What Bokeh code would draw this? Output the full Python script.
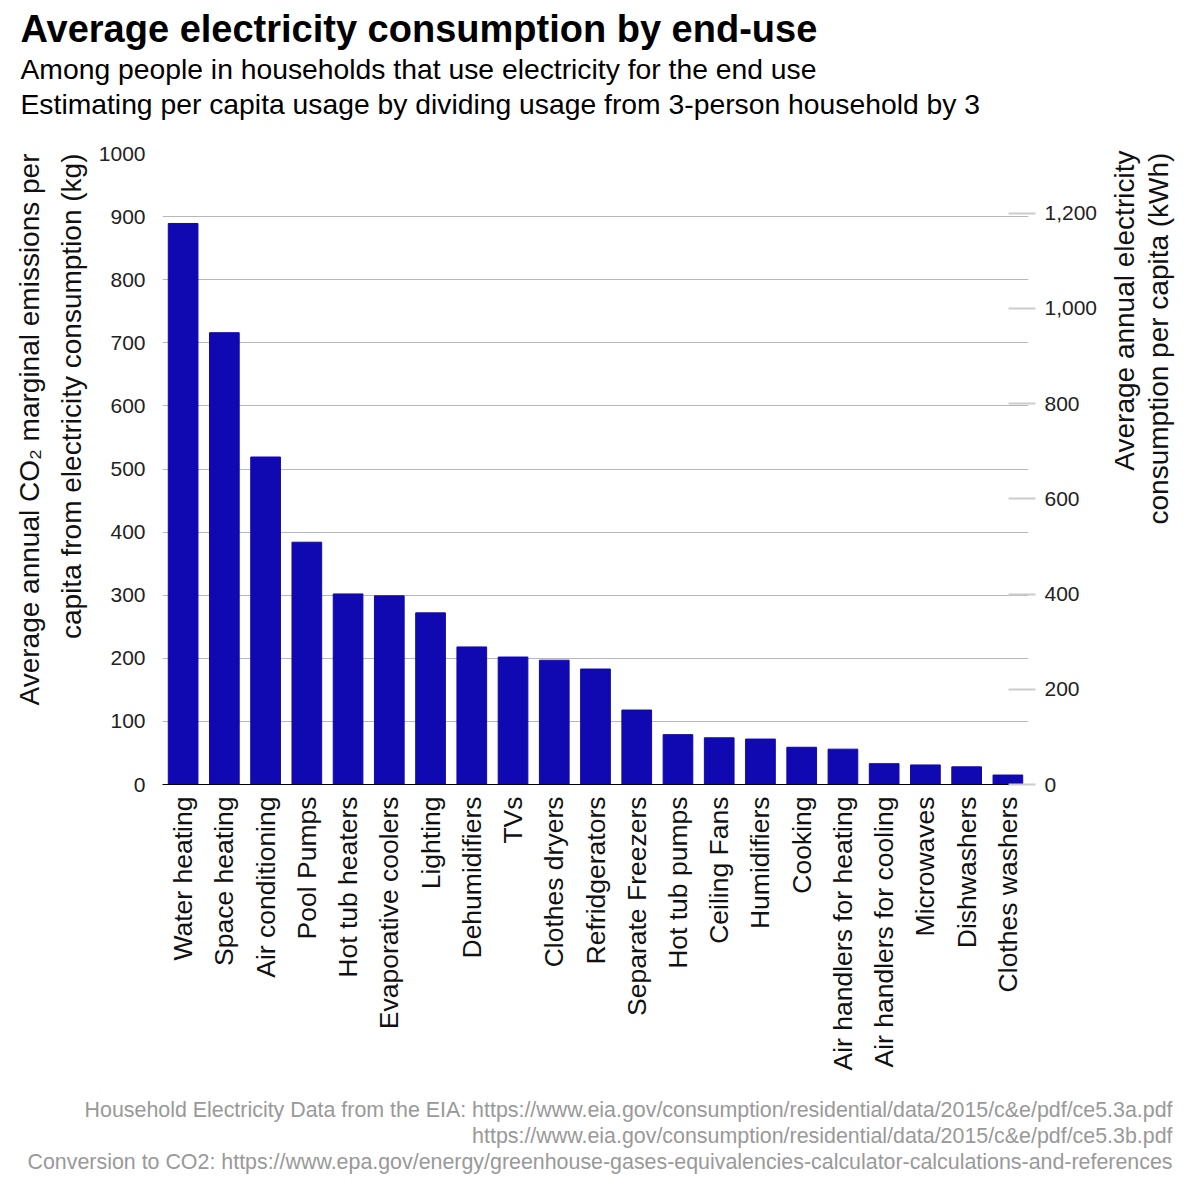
from math import pi
from bokeh.plotting import figure
from bokeh.models import (Range1d, LinearAxis, SingleIntervalTicker,
                          FixedTicker, NumeralTickFormatter, Title, ColumnDataSource)
from bokeh.embed import file_html
from bokeh.resources import INLINE

categories = ["Water heating", "Space heating", "Air conditioning", "Pool Pumps",
              "Hot tub heaters", "Evaporative coolers", "Lighting", "Dehumidifiers",
              "TVs", "Clothes dryers", "Refridgerators", "Separate Freezers",
              "Hot tub pumps", "Ceiling Fans", "Humidifiers", "Cooking",
              "Air handlers for heating", "Air handlers for cooling", "Microwaves",
              "Dishwashers", "Clothes washers"]
co2_kg = [889, 716, 519, 384, 302, 299, 272, 218, 202, 197, 183, 118,
          79, 74, 72, 59, 56, 33, 31, 28, 15]
kwh_axis_max = 1325

title_text = "Average electricity consumption by end-use"
subtitle_lines = ["Among people in households that use electricity for the end use",
                  "Estimating per capita usage by dividing usage from 3-person household by 3"]
left_title_lines = ["Average annual CO\u2082 marginal emissions per",
                    "capita from electricity consumption (kg)"]
right_title_lines = ["Average annual electricity", "consumption per capita (kWh)"]
# anchor (start) of each right-hand title line, in kWh of the right scale
right_title_anchor = [659, 546]
footnotes = ["Household Electricity Data from the EIA: https://www.eia.gov/consumption/residential/data/2015/c&e/pdf/ce5.3a.pdf",
             "https://www.eia.gov/consumption/residential/data/2015/c&e/pdf/ce5.3b.pdf",
             "Conversion to CO2: https://www.epa.gov/energy/greenhouse-gases-equivalencies-calculator-calculations-and-references"]

FONT = "Liberation Sans"
BAR = "#1008B0"
W = H = 1192

idx = list(range(len(categories)))
src = ColumnDataSource(data=dict(x=idx, cat=categories, val=co2_kg))

p = figure(width=W, height=H,
           x_range=Range1d(-0.5, len(categories) - 0.5),
           y_range=Range1d(0, 1000),
           output_backend="svg", toolbar_location=None,
           min_border_left=162, min_border_right=W - 1035,
           min_border_top=153, min_border_bottom=H - 784)
p.outline_line_color = None
p.background_fill_color = "white"
p.border_fill_color = "white"

p.vbar(x="x", top="val", width=0.72, source=src, color=BAR)

p.xgrid.grid_line_color = None
p.ygrid.grid_line_color = "#b7b7b7"
p.ygrid.grid_line_width = 1

# left axis
ya = p.yaxis[0]
ya.ticker = SingleIntervalTicker(interval=100)
ya.axis_line_color = None
ya.major_tick_line_color = None
ya.minor_tick_line_color = None
ya.major_tick_out = 0
ya.major_tick_in = 0
ya.major_label_standoff = 13
ya.major_label_text_font = FONT
ya.major_label_text_font_size = "21px"
ya.major_label_text_color = "#222222"

# bottom axis: category names on the bar positions
xa = p.xaxis[0]
xa.ticker = FixedTicker(ticks=idx)
xa.major_label_overrides = {i: c for i, c in zip(idx, categories)}
xa.axis_line_color = "black"
xa.axis_line_width = 1
xa.major_tick_line_color = None
xa.minor_tick_line_color = None
xa.major_tick_out = 0
xa.major_tick_in = 0
xa.major_label_orientation = pi / 2
xa.major_label_standoff = 12
xa.major_label_text_font = FONT
xa.major_label_text_font_size = "26.5px"
xa.major_label_text_color = "#111111"

# right axis (kWh)
p.extra_y_ranges = {"kwh": Range1d(0, kwh_axis_max)}
ra = LinearAxis(y_range_name="kwh", ticker=SingleIntervalTicker(interval=200),
                formatter=NumeralTickFormatter(format="0,0"))
ra.axis_line_color = None
ra.minor_tick_line_color = None
ra.major_tick_line_color = "#cccccc"
ra.major_tick_line_width = 2
ra.major_tick_in = 20
ra.major_tick_out = 7
ra.major_label_standoff = 9
ra.major_label_text_font = FONT
ra.major_label_text_font_size = "21px"
ra.major_label_text_color = "#222222"
p.add_layout(ra, "right")

# right axis title: each line is the single label of a tick-less axis
for line, anchor, so in zip(right_title_lines, right_title_anchor, [24, 0]):
    t_ax = LinearAxis(y_range_name="kwh", ticker=FixedTicker(ticks=[anchor]))
    t_ax.major_label_overrides = {anchor: line}
    t_ax.axis_line_color = None
    t_ax.major_tick_line_color = None
    t_ax.minor_tick_line_color = None
    t_ax.major_tick_out = 0
    t_ax.major_tick_in = 0
    t_ax.major_label_standoff = so
    t_ax.major_label_orientation = pi / 2
    t_ax.major_label_text_font = FONT
    t_ax.major_label_text_font_size = "28px"
    t_ax.major_label_text_color = "#111111"
    p.add_layout(t_ax, "right")

def spacer(place, size):
    s = LinearAxis(ticker=FixedTicker(ticks=[0]))
    s.major_label_overrides = {0: ""}
    s.axis_line_color = None
    s.major_tick_line_color = "white"
    s.minor_tick_line_color = None
    s.major_tick_out = size
    s.major_tick_in = 0
    s.major_label_standoff = 0
    s.major_label_text_font_size = "1px"
    p.add_layout(s, place)

def side_title(text, place, size, standoff, offset=0, align="left", bold=False,
               color="black"):
    t = Title(text=text, align=align, offset=offset, standoff=standoff,
              text_font=FONT, text_font_size=size,
              text_font_style="bold" if bold else "normal", text_color=color)
    p.add_layout(t, place)

# top: nearest to frame first
spacer("above", 34)
side_title(subtitle_lines[1], "above", "28.3px", 0, offset=20 - 162)
side_title(subtitle_lines[0], "above", "28.3px", 2, offset=20 - 162)
side_title(title_text, "above", "38px", 0, offset=20 - 162, bold=True)

# left axis title: nearest to frame first
side_title(left_title_lines[1], "left", "28px", 18, align="right", color="#111111")
side_title(left_title_lines[0], "left", "28px", 0, align="right", color="#111111")

# footnotes below the category labels
spacer("below", 22)
for t in footnotes:
    side_title(t, "below", "21.4px", 0, offset=-144, align="right", color="#999999")

open("out.html", "w").write(file_html(p, INLINE))
